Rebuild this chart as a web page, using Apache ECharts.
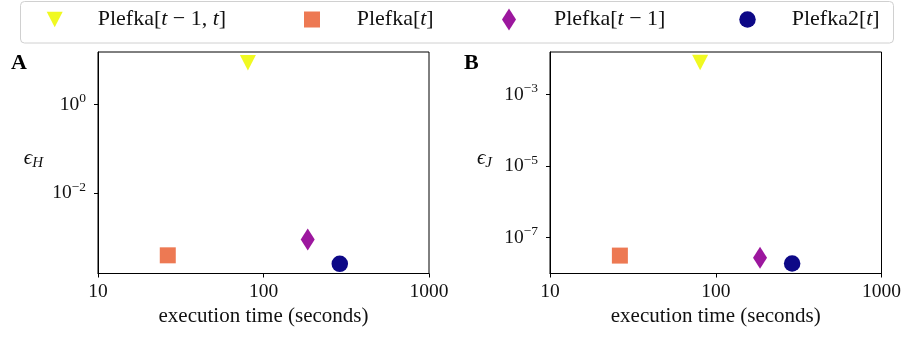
<!DOCTYPE html>
<html>
<head>
<meta charset="utf-8">
<script src="https://cdn.jsdelivr.net/npm/echarts@6/dist/echarts.min.js"></script>
<style>
  html, body { margin: 0; padding: 0; background: #fff; }
  #chart { width: 904px; height: 339px; }
</style>
</head>
<body>
<div id="chart"></div>
<script>
// data
const methods = ['Plefka[t-1,t]', 'Plefka[t]', 'Plefka[t-1]', 'Plefka2[t]'];
const execTime = [80.5, 26.4, 185, 289];          // seconds
const errorH = [8.9, 3.9e-4, 8.9e-4, 2.5e-4];     // panel A
const errorJ = [7.9e-3, 3.1e-8, 2.7e-8, 1.86e-8]; // panel B
const xTicks = [10, 100, 1000];
const yTicksH = [1, 1e-2];
const yTicksJ = [1e-3, 1e-5, 1e-7];

const FONT = "'Liberation Serif', 'DejaVu Serif', serif";
const colors = ['#f0f921', '#ed7953', '#9c179e', '#0d0887'];
const symbols = ['path://M0,0 L10,0 L5,10 Z', 'rect', 'diamond', 'circle'];
const sizes = [[16, 15.5], [16, 16], [14, 22], [16.5, 16.5]];

const legendRich = {
  'Plefka[t-1,t]': '{g|}{n|Plefka[}{i|t}{n| − 1, }{i|t}{n|]}',
  'Plefka[t]': '{g|}{n|Plefka[}{i|t}{n|]}',
  'Plefka[t-1]': '{g|}{n|Plefka[}{i|t}{n| − 1]}',
  'Plefka2[t]': '{g|}{n|Plefka2[}{i|t}{n|]}'
};
const legendCenters = [54.7, 312, 509, 747.5];
const legendTextStart = [97.7, 356.7, 554, 791.7];

const myChart = echarts.init(document.getElementById('chart'));

const powLabel = (v) => {
  const e = Math.round(Math.log10(v));
  return '{b|10}{s|' + (e < 0 ? '−' + (-e) : e) + '}';
};

const tickRich = {
  b: { fontFamily: FONT, fontSize: 19.5, color: '#111' },
  s: { fontFamily: FONT, fontSize: 13.5, color: '#111', padding: [0, 0, 12, 0] }
};

const makeX = (idx) => ({
  type: 'log',
  gridIndex: idx,
  min: 10,
  max: 1000,
  name: 'execution time (seconds)',
  nameLocation: 'middle',
  nameGap: 32,
  nameTextStyle: { fontFamily: FONT, fontSize: 21, color: '#111' },
  axisLine: { show: true, lineStyle: { color: '#000', width: 1 } },
  axisTick: { show: true, length: 4, customValues: xTicks, lineStyle: { color: '#000' } },
  axisLabel: {
    customValues: xTicks, margin: 8, fontFamily: FONT, fontSize: 19.5, color: '#111',
    formatter: (v) => String(Math.round(v))
  },
  splitLine: { show: false },
  minorTick: { show: false }
});

const makeY = (idx, lo, hi, ticks, sub, gap) => ({
  type: 'log',
  gridIndex: idx,
  min: Math.pow(10, lo),
  max: Math.pow(10, hi),
  name: '{e|ϵ}{u|' + sub + '}',
  nameLocation: 'middle',
  nameRotate: 0,
  nameGap: gap,
  nameTextStyle: {
    padding: [0, 0, 8, 0],
    rich: {
      e: { fontFamily: FONT, fontSize: 21, fontStyle: 'italic', color: '#111' },
      u: { fontFamily: FONT, fontSize: 15, fontStyle: 'italic', color: '#111', padding: [8, 0, 0, 0] }
    }
  },
  axisLine: { show: true, lineStyle: { color: '#000', width: 1 } },
  axisTick: { show: true, length: 4, customValues: ticks, lineStyle: { color: '#000' } },
  axisLabel: { customValues: ticks, margin: 12, formatter: powLabel, rich: tickRich },
  splitLine: { show: false },
  minorTick: { show: false }
});

const series = [];
[errorH, errorJ].forEach((errs, p) => {
  methods.forEach((m, i) => {
    series.push({
      name: m,
      type: 'scatter',
      xAxisIndex: p,
      yAxisIndex: p,
      symbol: symbols[i],
      symbolSize: sizes[i],
      itemStyle: { color: colors[i], opacity: 1 },
      clip: false,
      data: [[execTime[i], errs[i]]]
    });
  });
});

const legends = methods.map((m, i) => {
  const w = sizes[i][0];
  const h = sizes[i][1];
  return {
    data: [m],
    left: legendCenters[i] - w / 2,
    top: 20.5 - 12,
    padding: 0,
    itemGap: 0,
    itemWidth: w,
    itemHeight: h,
    symbolKeepAspect: false,
    formatter: (name) => legendRich[name],
    textStyle: {
      rich: {
        g: { width: legendTextStart[i] - legendCenters[i] - w / 2 - 5, height: 1 },
        n: { fontFamily: FONT, fontSize: 22, color: '#111' },
        i: { fontFamily: FONT, fontSize: 22, fontStyle: 'italic', color: '#111' }
      }
    }
  };
});

const option = {
  animation: false,
  backgroundColor: '#fff',
  title: [
    { text: 'A', left: 11, top: 52, padding: 0, textStyle: { fontFamily: FONT, fontSize: 22, fontWeight: 'bold', color: '#000' } },
    { text: 'B', left: 464, top: 52, padding: 0, textStyle: { fontFamily: FONT, fontSize: 22, fontWeight: 'bold', color: '#000' } }
  ],
  graphic: [{
    type: 'rect',
    z: -1,
    shape: { x: 20.5, y: 1.5, width: 873, height: 41.5, r: 4 },
    style: { fill: '#fff', stroke: '#d0d0d0', lineWidth: 1 }
  }],
  legend: legends,
  grid: [
    { left: 98, top: 52, width: 331, height: 221.5, show: true, borderColor: '#000', borderWidth: 1, backgroundColor: 'transparent' },
    { left: 550, top: 52, width: 331.5, height: 221.5, show: true, borderColor: '#000', borderWidth: 1, backgroundColor: 'transparent' }
  ],
  xAxis: [makeX(0), makeX(1)],
  yAxis: [
    makeY(0, -3.82, 1.19, yTicksH, 'H', 55),
    makeY(1, -8.01, -1.81, yTicksJ, 'J', 58)
  ],
  series: series
};

option && myChart.setOption(option);
</script>
</body>
</html>
